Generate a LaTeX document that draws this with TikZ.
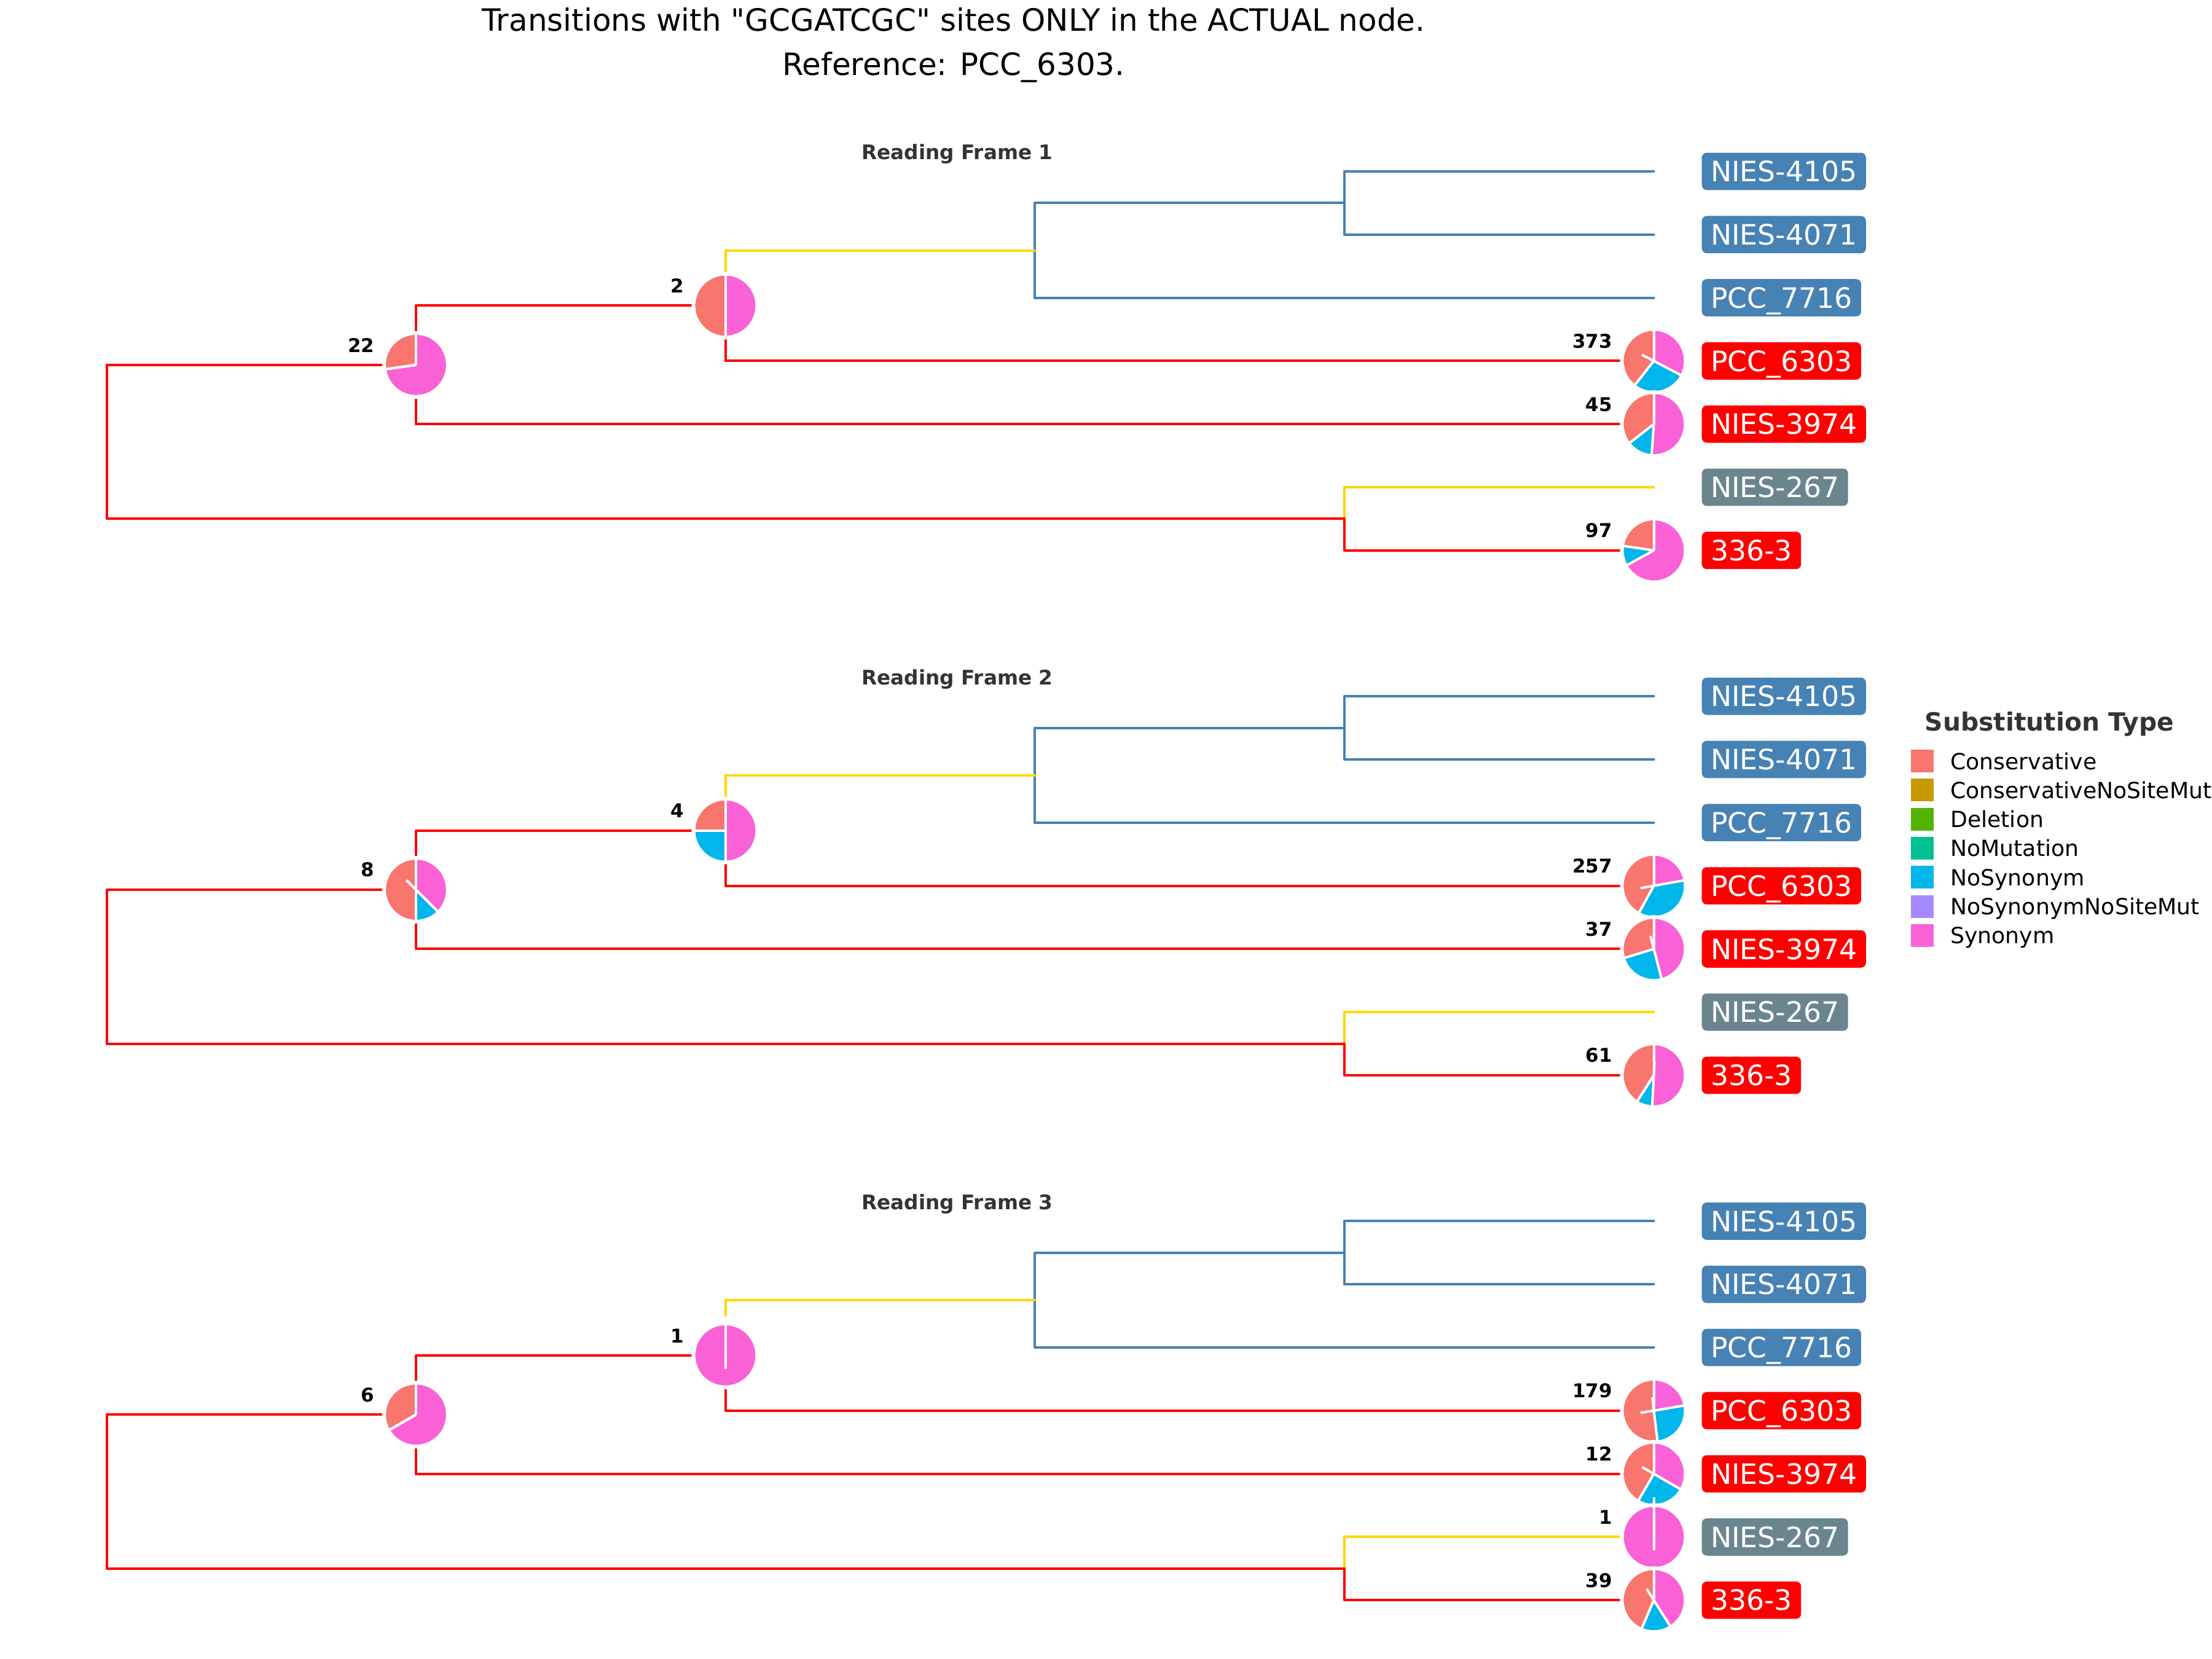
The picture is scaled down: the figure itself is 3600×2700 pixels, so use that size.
\documentclass[tikz,border=0pt]{standalone}
\usepackage{fontspec}
\setmainfont{DejaVu Sans}[Ligatures=TeXOff]
\usetikzlibrary{calc}
\definecolor{cCons}{HTML}{F8766D}
\definecolor{cCNSM}{HTML}{C49A00}
\definecolor{cDel}{HTML}{53B400}
\definecolor{cNoMut}{HTML}{00C094}
\definecolor{cNoSyn}{HTML}{00B6EB}
\definecolor{cNSNSM}{HTML}{A58AFF}
\definecolor{cSyn}{HTML}{FB61D7}
\definecolor{bBlue}{HTML}{4682B4}
\definecolor{bRed}{HTML}{FF0000}
\definecolor{bGold}{HTML}{FFD700}
\definecolor{bGrey}{HTML}{6B858F}
\definecolor{txtGrey}{HTML}{333333}
\newcommand\mypie[5]{%
  \pgfmathsetmacro\pTot{#2+#3+#4}%
  \pgfmathsetmacro\pA{90+360*(#2/\pTot)}%
  \pgfmathsetmacro\pB{\pA+360*(#3/\pTot)}%
  \fill[cCons] (#1) -- ++(90:0.49cm) arc[start angle=90,end angle=\pA,radius=0.49cm] -- cycle;
  \fill[cNoSyn] (#1) -- ++(\pA:0.49cm) arc[start angle=\pA,end angle=\pB,radius=0.49cm] -- cycle;
  \fill[cSyn] (#1) -- ++(\pB:0.49cm) arc[start angle=\pB,end angle=450,radius=0.49cm] -- cycle;
  \draw[white, line width=0.06cm] (#1) circle[radius=0.52cm];
  \foreach \sa in {90,\pA,\pB} \draw[pieSep] (#1) -- ++(\sa:0.5cm);
  \foreach \sa in {#5} \draw[pieSep] (#1) -- ++(\sa:0.22cm);
}
\begin{document}
\begin{tikzpicture}[x=0.01cm,y=0.01cm,
  brEdge/.style={line width=0.04cm, line cap=round, line join=round},
  eRed/.style={brEdge, draw=bRed},
  eBlue/.style={brEdge, draw=bBlue},
  eGold/.style={brEdge, draw=bGold},
  pieSep/.style={white, line width=0.04cm},
  tiplab/.style={anchor=west, text=white, rounded corners=0.08cm, font=\fontsize{13}{13}\selectfont, inner xsep=0.143cm, inner ysep=0.137cm, text height=0.333cm, text depth=0pt},
  cnt/.style={anchor=south east, inner sep=0pt, font=\bfseries\fontsize{8.8}{8.8}\selectfont},
  frlab/.style={anchor=base, inner sep=0pt, text=txtGrey, font=\bfseries\fontsize{9.3}{9.3}\selectfont},
]
\fill[white] (0,0) rectangle (3600,-2700);
\clip (0,0) rectangle (3600,-2700);

% title
\node[anchor=base, inner sep=0pt, font=\fontsize{14.2}{14.2}\selectfont] (title1) at (1552,-50.7) {Transitions with "GCGATCGC" sites ONLY in the ACTUAL node.};
\node[anchor=base, inner sep=0pt, font=\fontsize{14.2}{14.2}\selectfont] (title2) at (1552,-122.7) {Reference: PCC\_6303.};

% tree coordinates
\foreach \f/\o in {1/0,2/854.2,3/1708.4}{
  \pgfmathsetmacro\rz{279+\o}
  \foreach \k in {0,...,6}{\coordinate (t\f-\k) at (2691.5,{-(\rz+102.8*\k)});}
  \coordinate (a\f) at (2188,{-(\rz+51.4)});
  \coordinate (b\f) at (1684,{-(\rz+128.5)});
  \coordinate (c\f) at (1180.5,{-(\rz+218.45)});
  \coordinate (d\f) at (677,{-(\rz+314.825)});
  \coordinate (e\f) at (2188,{-(\rz+565.4)});
  \coordinate (r\f) at (173.5,{-(\rz+440.1)});
  \node[frlab] (fl\f) at (1558,{-(259.8+\o)}) {Reading Frame \f};
}

% branches
\foreach \f in {1,2,3}{
  \draw[eBlue] (a\f) |- (t\f-0);
  \draw[eBlue] (a\f) |- (t\f-1);
  \draw[eBlue] (b\f) |- (a\f);
  \draw[eBlue] (b\f) |- (t\f-2);
  \draw[eGold] (c\f) |- (b\f);
  \draw[eGold] (e\f) |- (t\f-5);
  \draw[eRed] (c\f) |- (t\f-3);
  \draw[eRed] (d\f) |- (c\f);
  \draw[eRed] (d\f) |- (t\f-4);
  \draw[eRed] (e\f) |- (t\f-6);
  \draw[eRed] (r\f) |- (d\f);
  \draw[eRed] (r\f) |- (e\f);
  \foreach \k/\nm/\col in {0/NIES-4105/bBlue,1/NIES-4071/bBlue,2/PCC\_7716/bBlue,3/PCC\_6303/bRed,4/NIES-3974/bRed,5/NIES-267/bGrey,6/336-3/bRed}{
    \node[tiplab, fill=\col] (lab\f-\k) at ($(t\f-\k)+(77.5,0)$) {\nm};
  }
}

% pies, frame 1
\mypie{d1}{6}{0}{16}{90}
\mypie{c1}{1}{0}{1}{90}
\mypie{t1-3}{147}{104}{122}{152.5}
\mypie{t1-4}{16}{6}{23}{90}
\mypie{t1-6}{22}{10}{65}{90}
\node[cnt] (n1a) at ($(d1)+(-67,20)$) {22};
\node[cnt] (n1b) at ($(c1)+(-67,20)$) {2};
\node[cnt] (n1c) at ($(t1-3)+(-67,20)$) {373};
\node[cnt] (n1d) at ($(t1-4)+(-67,20)$) {45};
\node[cnt] (n1e) at ($(t1-6)+(-67,20)$) {97};

% pies, frame 2
\mypie{d2}{4}{1}{3}{135}
\mypie{c2}{1}{1}{2}{90}
\mypie{t2-3}{108}{92}{57}{190}
\mypie{t2-4}{11}{9}{17}{105}
\mypie{t2-6}{25}{5}{31}{87}
\node[cnt] (n2a) at ($(d2)+(-67,20)$) {8};
\node[cnt] (n2b) at ($(c2)+(-67,20)$) {4};
\node[cnt] (n2c) at ($(t2-3)+(-67,20)$) {257};
\node[cnt] (n2d) at ($(t2-4)+(-67,20)$) {37};
\node[cnt] (n2e) at ($(t2-6)+(-67,20)$) {61};

% pies, frame 3
\mypie{d3}{2}{0}{4}{90}
\mypie{c3}{0}{0}{1}{270}
\draw[pieSep] (c3) -- ++(90:0.64cm);
\mypie{t3-3}{93}{46}{40}{189,96}
\mypie{t3-4}{5}{3}{4}{150}
\mypie{t3-5}{0}{0}{1}{270}
\draw[pieSep] (t3-5) -- ++(90:0.64cm);
\mypie{t3-6}{17}{6}{16}{122}
\node[cnt] (n3a) at ($(d3)+(-67,20)$) {6};
\node[cnt] (n3b) at ($(c3)+(-67,20)$) {1};
\node[cnt] (n3c) at ($(t3-3)+(-67,20)$) {179};
\node[cnt] (n3d) at ($(t3-4)+(-67,20)$) {12};
\node[cnt] (n3e) at ($(t3-5)+(-67,20)$) {1};
\node[cnt] (n3f) at ($(t3-6)+(-67,20)$) {39};

% legend
\node[anchor=base west, inner sep=0pt, text=txtGrey, font=\bfseries\fontsize{11.6}{11.6}\selectfont] (legT) at (3132,-1189) {Substitution Type};
\foreach \k/\nm/\col in {0/Conservative/cCons,1/ConservativeNoSiteMut/cCNSM,2/Deletion/cDel,3/NoMutation/cNoMut,4/NoSynonym/cNoSyn,5/NoSynonymNoSiteMut/cNSNSM,6/Synonym/cSyn}{
  \node[fill=\col, minimum width=0.37cm, minimum height=0.37cm, inner sep=0pt] (key\k) at (3128.5,{-(1238.5+47.3*\k)}) {};
  \node[anchor=base west, inner sep=0pt, font=\fontsize{10.3}{10.3}\selectfont] (lt\k) at (3173.5,{-(1252+47.3*\k)}) {\nm};
}
\end{tikzpicture}
\end{document}
